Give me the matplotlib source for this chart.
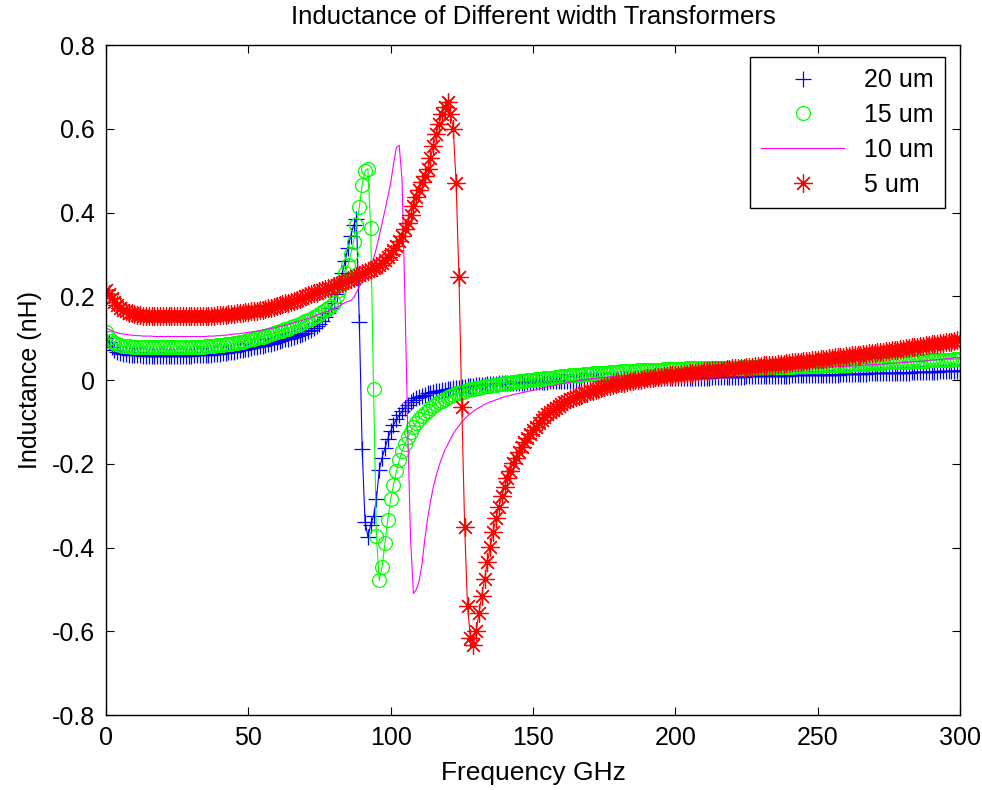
import matplotlib
matplotlib.use("Agg")
import matplotlib.pyplot as plt
from matplotlib.lines import Line2D
import numpy as np

plt.rcParams['font.family'] = ['Liberation Sans', 'DejaVu Sans']

freq_ghz = list(range(0, 301))

L_20um = [
    0.100, 0.090, 0.080, 0.073, 0.068, 0.065, 0.063, 0.062, 0.061, 0.060,
    0.060, 0.059, 0.059, 0.058, 0.058, 0.058, 0.058, 0.058, 0.058, 0.058,
    0.058, 0.058, 0.058, 0.058, 0.058, 0.058, 0.058, 0.058, 0.058, 0.058,
    0.058, 0.059, 0.059, 0.059, 0.060, 0.060, 0.061, 0.061, 0.062, 0.062,
    0.063, 0.064, 0.065, 0.066, 0.067, 0.068, 0.069, 0.071, 0.072, 0.074,
    0.075, 0.076, 0.078, 0.079, 0.081, 0.082, 0.084, 0.086, 0.087, 0.089,
    0.091, 0.093, 0.095, 0.097, 0.099, 0.101, 0.103, 0.105, 0.108, 0.110,
    0.113, 0.116, 0.120, 0.124, 0.129, 0.135, 0.142, 0.150, 0.160, 0.172,
    0.185, 0.205, 0.230, 0.255, 0.285, 0.315, 0.345, 0.370, 0.385, 0.139,
    -0.165, -0.338, -0.374, -0.345, -0.325, -0.283, -0.215, -0.185, -0.163, -0.140,
    -0.122, -0.107, -0.094, -0.084, -0.075, -0.066, -0.059, -0.053, -0.048, -0.044,
    -0.040, -0.037, -0.035, -0.032, -0.030, -0.029, -0.027, -0.025, -0.024, -0.023,
    -0.022, -0.021, -0.020, -0.019, -0.018, -0.017, -0.016, -0.015, -0.014, -0.013,
    -0.012, -0.012, -0.011, -0.011, -0.010, -0.010, -0.009, -0.009, -0.008, -0.008,
    -0.008, -0.007, -0.007, -0.007, -0.006, -0.006, -0.006, -0.006, -0.005, -0.005,
    -0.005, -0.005, -0.004, -0.004, -0.004, -0.004, -0.003, -0.003, -0.003, -0.003,
    -0.003, -0.002, -0.002, -0.002, -0.002, -0.002, -0.001, -0.001, -0.001, -0.001,
    -0.001, 0.000, 0.000, 0.000, 0.000, 0.000, 0.001, 0.001, 0.001, 0.001,
    0.001, 0.002, 0.002, 0.002, 0.002, 0.002, 0.003, 0.003, 0.003, 0.003,
    0.003, 0.003, 0.003, 0.004, 0.004, 0.004, 0.004, 0.004, 0.004, 0.004,
    0.004, 0.005, 0.005, 0.005, 0.005, 0.005, 0.005, 0.006, 0.006, 0.006,
    0.006, 0.006, 0.006, 0.007, 0.007, 0.007, 0.007, 0.007, 0.008, 0.008,
    0.008, 0.008, 0.008, 0.008, 0.008, 0.009, 0.009, 0.009, 0.009, 0.009,
    0.009, 0.009, 0.009, 0.010, 0.010, 0.010, 0.010, 0.010, 0.010, 0.010,
    0.010, 0.011, 0.011, 0.011, 0.011, 0.011, 0.011, 0.012, 0.012, 0.012,
    0.012, 0.012, 0.012, 0.013, 0.013, 0.013, 0.013, 0.013, 0.014, 0.014,
    0.014, 0.014, 0.014, 0.015, 0.015, 0.015, 0.015, 0.015, 0.016, 0.016,
    0.016, 0.016, 0.016, 0.017, 0.017, 0.017, 0.017, 0.017, 0.018, 0.018,
    0.018, 0.018, 0.018, 0.019, 0.019, 0.019, 0.019, 0.019, 0.020, 0.020,
    0.020, 0.020, 0.020, 0.021, 0.021, 0.021, 0.021, 0.021, 0.022, 0.022,
    0.022,
]

L_15um = [
    0.115, 0.100, 0.093, 0.088, 0.085, 0.083, 0.082, 0.081, 0.081, 0.080,
    0.080, 0.080, 0.079, 0.079, 0.079, 0.079, 0.079, 0.079, 0.079, 0.079,
    0.079, 0.079, 0.079, 0.079, 0.079, 0.079, 0.079, 0.079, 0.079, 0.079,
    0.079, 0.079, 0.080, 0.080, 0.080, 0.081, 0.081, 0.082, 0.082, 0.083,
    0.083, 0.084, 0.085, 0.086, 0.087, 0.088, 0.089, 0.091, 0.092, 0.094,
    0.096, 0.097, 0.099, 0.100, 0.102, 0.104, 0.106, 0.108, 0.110, 0.112,
    0.114, 0.116, 0.118, 0.121, 0.123, 0.126, 0.128, 0.131, 0.134, 0.137,
    0.140, 0.143, 0.146, 0.150, 0.154, 0.158, 0.162, 0.167, 0.172, 0.178,
    0.185, 0.200, 0.215, 0.235, 0.255, 0.275, 0.300, 0.330, 0.370, 0.414,
    0.466, 0.500, 0.505, 0.362, -0.022, -0.372, -0.478, -0.446, -0.389, -0.334,
    -0.285, -0.250, -0.218, -0.192, -0.170, -0.152, -0.137, -0.124, -0.112, -0.102,
    -0.093, -0.086, -0.079, -0.073, -0.067, -0.062, -0.057, -0.053, -0.049, -0.045,
    -0.041, -0.038, -0.035, -0.032, -0.030, -0.028, -0.026, -0.024, -0.022, -0.021,
    -0.019, -0.018, -0.017, -0.015, -0.014, -0.013, -0.012, -0.011, -0.010, -0.009,
    -0.008, -0.007, -0.006, -0.005, -0.004, -0.003, -0.002, -0.002, -0.001, 0.000,
    0.001, 0.002, 0.003, 0.003, 0.004, 0.005, 0.006, 0.006, 0.007, 0.008,
    0.009, 0.009, 0.010, 0.011, 0.011, 0.012, 0.013, 0.013, 0.014, 0.014,
    0.015, 0.016, 0.016, 0.017, 0.017, 0.018, 0.018, 0.019, 0.019, 0.020,
    0.020, 0.021, 0.021, 0.021, 0.022, 0.022, 0.022, 0.023, 0.023, 0.023,
    0.024, 0.024, 0.024, 0.025, 0.025, 0.025, 0.026, 0.026, 0.026, 0.026,
    0.027, 0.027, 0.027, 0.027, 0.028, 0.028, 0.028, 0.028, 0.028, 0.029,
    0.029, 0.029, 0.029, 0.029, 0.029, 0.030, 0.030, 0.030, 0.030, 0.030,
    0.030, 0.030, 0.030, 0.031, 0.031, 0.031, 0.031, 0.031, 0.031, 0.031,
    0.031, 0.031, 0.031, 0.032, 0.032, 0.032, 0.032, 0.032, 0.032, 0.032,
    0.032, 0.032, 0.033, 0.033, 0.033, 0.033, 0.033, 0.034, 0.034, 0.034,
    0.034, 0.034, 0.035, 0.035, 0.035, 0.035, 0.036, 0.036, 0.036, 0.037,
    0.037, 0.037, 0.038, 0.038, 0.038, 0.039, 0.039, 0.039, 0.040, 0.040,
    0.040, 0.041, 0.041, 0.041, 0.042, 0.042, 0.042, 0.043, 0.043, 0.043,
    0.044, 0.044, 0.044, 0.045, 0.045, 0.045, 0.046, 0.046, 0.046, 0.047,
    0.047, 0.047, 0.048, 0.048, 0.048, 0.049, 0.049, 0.049, 0.050, 0.050,
    0.050,
]

L_10um = [
    0.125, 0.121, 0.118, 0.115, 0.113, 0.111, 0.110, 0.109, 0.108, 0.107,
    0.107, 0.106, 0.106, 0.105, 0.105, 0.105, 0.105, 0.104, 0.104, 0.104,
    0.104, 0.104, 0.104, 0.104, 0.104, 0.104, 0.104, 0.104, 0.104, 0.104,
    0.104, 0.104, 0.104, 0.104, 0.104, 0.104, 0.105, 0.105, 0.105, 0.106,
    0.106, 0.107, 0.107, 0.108, 0.109, 0.110, 0.110, 0.111, 0.112, 0.113,
    0.114, 0.115, 0.116, 0.117, 0.118, 0.120, 0.121, 0.122, 0.123, 0.125,
    0.126, 0.128, 0.129, 0.131, 0.133, 0.135, 0.137, 0.139, 0.141, 0.143,
    0.145, 0.147, 0.150, 0.152, 0.155, 0.158, 0.160, 0.163, 0.165, 0.168,
    0.170, 0.174, 0.177, 0.181, 0.185, 0.188, 0.190, 0.196, 0.210, 0.223,
    0.236, 0.245, 0.255, 0.270, 0.290, 0.315, 0.345, 0.375, 0.405, 0.437,
    0.470, 0.515, 0.555, 0.561, 0.480, 0.200, -0.120, -0.380, -0.510, -0.500,
    -0.480, -0.440, -0.380, -0.330, -0.290, -0.255, -0.228, -0.205, -0.185, -0.168,
    -0.155, -0.141, -0.128, -0.118, -0.109, -0.100, -0.093, -0.086, -0.080, -0.075,
    -0.070, -0.066, -0.062, -0.058, -0.055, -0.052, -0.050, -0.047, -0.045, -0.042,
    -0.040, -0.038, -0.037, -0.035, -0.033, -0.032, -0.030, -0.029, -0.027, -0.026,
    -0.024, -0.023, -0.021, -0.020, -0.018, -0.017, -0.015, -0.014, -0.012, -0.010,
    -0.009, -0.008, -0.006, -0.005, -0.004, -0.003, -0.001, 0.000, 0.001, 0.002,
    0.003, 0.004, 0.004, 0.005, 0.006, 0.006, 0.007, 0.008, 0.008, 0.009,
    0.009, 0.010, 0.010, 0.011, 0.011, 0.012, 0.012, 0.013, 0.013, 0.014,
    0.014, 0.015, 0.015, 0.016, 0.016, 0.017, 0.017, 0.018, 0.018, 0.019,
    0.019, 0.020, 0.020, 0.021, 0.021, 0.022, 0.022, 0.023, 0.023, 0.024,
    0.024, 0.024, 0.025, 0.025, 0.025, 0.025, 0.026, 0.026, 0.026, 0.026,
    0.026, 0.026, 0.027, 0.027, 0.027, 0.027, 0.027, 0.027, 0.027, 0.027,
    0.027, 0.027, 0.027, 0.028, 0.028, 0.028, 0.028, 0.028, 0.028, 0.028,
    0.028, 0.028, 0.029, 0.029, 0.029, 0.029, 0.029, 0.029, 0.030, 0.030,
    0.030, 0.030, 0.031, 0.031, 0.031, 0.031, 0.032, 0.032, 0.032, 0.033,
    0.033, 0.033, 0.034, 0.034, 0.035, 0.035, 0.035, 0.036, 0.036, 0.037,
    0.037, 0.037, 0.038, 0.038, 0.039, 0.039, 0.040, 0.040, 0.041, 0.041,
    0.042, 0.042, 0.043, 0.043, 0.044, 0.044, 0.045, 0.045, 0.046, 0.047,
    0.048, 0.048, 0.049, 0.049, 0.050, 0.051, 0.051, 0.052, 0.053, 0.053,
    0.054,
]

L_5um = [
    0.215, 0.205, 0.195, 0.186, 0.179, 0.173, 0.168, 0.164, 0.161, 0.159,
    0.157, 0.156, 0.155, 0.154, 0.154, 0.153, 0.153, 0.153, 0.152, 0.152,
    0.152, 0.152, 0.152, 0.152, 0.152, 0.152, 0.152, 0.152, 0.152, 0.152,
    0.152, 0.152, 0.152, 0.152, 0.153, 0.153, 0.153, 0.154, 0.154, 0.155,
    0.155, 0.156, 0.156, 0.157, 0.158, 0.158, 0.159, 0.160, 0.161, 0.162,
    0.163, 0.164, 0.165, 0.166, 0.167, 0.168, 0.170, 0.171, 0.173, 0.175,
    0.177, 0.179, 0.181, 0.183, 0.185, 0.187, 0.189, 0.191, 0.194, 0.197,
    0.200, 0.202, 0.205, 0.207, 0.209, 0.212, 0.214, 0.217, 0.219, 0.221,
    0.224, 0.227, 0.229, 0.232, 0.235, 0.238, 0.241, 0.244, 0.248, 0.251,
    0.255, 0.258, 0.261, 0.264, 0.267, 0.270, 0.274, 0.280, 0.286, 0.294,
    0.302, 0.311, 0.321, 0.332, 0.345, 0.360, 0.376, 0.395, 0.415, 0.437,
    0.455, 0.472, 0.488, 0.505, 0.530, 0.560, 0.588, 0.612, 0.635, 0.652,
    0.665, 0.635, 0.600, 0.470, 0.245, -0.065, -0.350, -0.540, -0.615, -0.632,
    -0.600, -0.557, -0.515, -0.475, -0.435, -0.398, -0.362, -0.330, -0.303, -0.278,
    -0.255, -0.235, -0.216, -0.199, -0.185, -0.172, -0.160, -0.149, -0.139, -0.129,
    -0.120, -0.111, -0.103, -0.096, -0.089, -0.082, -0.076, -0.071, -0.066, -0.061,
    -0.057, -0.053, -0.050, -0.046, -0.043, -0.040, -0.037, -0.035, -0.032, -0.030,
    -0.027, -0.025, -0.023, -0.021, -0.019, -0.017, -0.015, -0.013, -0.012, -0.010,
    -0.008, -0.007, -0.006, -0.004, -0.003, -0.002, -0.001, 0.000, 0.001, 0.003,
    0.004, 0.005, 0.006, 0.007, 0.007, 0.008, 0.009, 0.010, 0.011, 0.011,
    0.012, 0.013, 0.014, 0.015, 0.015, 0.016, 0.017, 0.018, 0.019, 0.020,
    0.021, 0.021, 0.022, 0.023, 0.023, 0.024, 0.025, 0.025, 0.026, 0.027,
    0.028, 0.028, 0.029, 0.030, 0.030, 0.031, 0.031, 0.032, 0.033, 0.033,
    0.034, 0.035, 0.035, 0.036, 0.037, 0.037, 0.038, 0.039, 0.039, 0.040,
    0.041, 0.042, 0.042, 0.043, 0.044, 0.045, 0.045, 0.046, 0.047, 0.048,
    0.049, 0.050, 0.050, 0.051, 0.052, 0.053, 0.054, 0.054, 0.055, 0.056,
    0.057, 0.058, 0.059, 0.059, 0.060, 0.061, 0.062, 0.063, 0.064, 0.064,
    0.065, 0.066, 0.067, 0.068, 0.069, 0.070, 0.071, 0.072, 0.073, 0.074,
    0.075, 0.076, 0.077, 0.078, 0.079, 0.080, 0.081, 0.082, 0.083, 0.084,
    0.085, 0.086, 0.087, 0.088, 0.089, 0.090, 0.091, 0.092, 0.093, 0.095,
    0.096,
]

series_labels = ["20 um", "15 um", "10 um", "5 um"]
x_ticks = [0, 50, 100, 150, 200, 250, 300]
y_ticks = [-0.8, -0.6, -0.4, -0.2, 0, 0.2, 0.4, 0.6, 0.8]
y_tick_labels = ["-0.8", "-0.6", "-0.4", "-0.2", "0", "0.2", "0.4", "0.6", "0.8"]

FS = 18

fig = plt.figure(figsize=(9.82, 7.90), dpi=100)
ax = fig.add_axes([0.1079, 0.0949, 0.8697, 0.848])

blue = (0, 0, 1)
green = (0, 1, 0)
magenta = (1, 0, 1)
red = (1, 0, 0)
asterisk = (8, 2, 0)

MS_PLUS, MS_O, MS_AST = 12, 10, 13

ax.plot(freq_ghz, L_20um, color=blue, lw=0.8, marker='+', ms=MS_PLUS,
        mew=0.9, mec=blue)
ax.plot(freq_ghz, L_15um, color=green, lw=0.8, marker='o', ms=MS_O,
        mew=0.9, mec=green, mfc='none')
ax.plot(freq_ghz, L_10um, color=magenta, lw=0.8)
ax.plot(freq_ghz, L_5um, color=red, lw=0.8, marker=asterisk, ms=MS_AST,
        mew=0.9, mec=red)

ax.set_xlim(0, 300)
ax.set_ylim(-0.8, 0.8)
ax.set_xticks(x_ticks)
ax.set_xticklabels([str(v) for v in x_ticks])
ax.set_yticks(y_ticks)
ax.set_yticklabels(y_tick_labels)
ax.tick_params(direction='in', length=6, width=0.8, top=True, right=True,
               labelsize=FS, pad=8)
for s in ax.spines.values():
    s.set_linewidth(1.0)
    s.set_color('black')

ax.set_title("Inductance of Different width Transformers", fontsize=18.5, pad=15)
ax.set_xlabel("Frequency GHz", fontsize=19, labelpad=7.5)
ax.set_ylabel("Inductance (nH)", fontsize=FS, labelpad=7)

handles = [
    Line2D([], [], color=blue, marker='+', ls='none', ms=MS_PLUS, mew=0.9),
    Line2D([], [], color=green, marker='o', ls='none', ms=MS_O, mew=0.9, mfc='none'),
    Line2D([], [], color=magenta, lw=0.8),
    Line2D([], [], color=red, marker=asterisk, ls='none', ms=MS_AST, mew=0.9),
]
leg = ax.legend(handles, series_labels, loc='upper right',
                bbox_to_anchor=(0.982, 0.982), borderaxespad=0,
                fontsize=FS, frameon=True, fancybox=False, framealpha=1,
                edgecolor='black', handlelength=3.3, handletextpad=0.8,
                labelspacing=0.43, borderpad=0.45)
leg.get_frame().set_linewidth(1.0)

fig.savefig("out.png", dpi=100)
